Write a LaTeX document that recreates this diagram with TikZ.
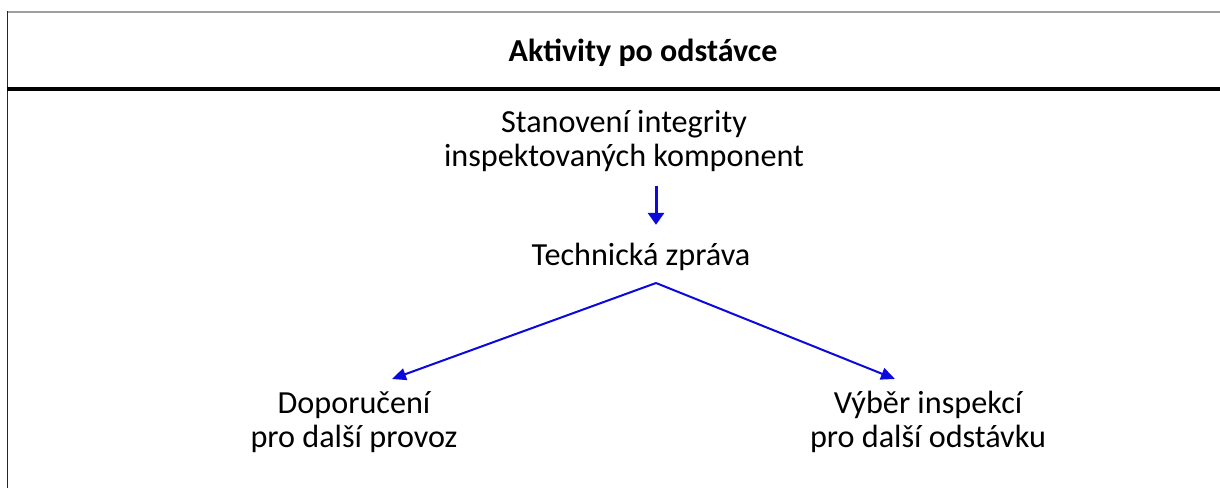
\documentclass[tikz,border=0pt]{standalone}
\usepackage{fontspec}
\setmainfont{Carlito}
\usepackage{tikz}
\usetikzlibrary{arrows.meta,positioning}
\definecolor{flowblue}{RGB}{10,10,220}
\definecolor{framegray}{RGB}{160,160,160}
\tikzset{textblock/.style={align=center,inner sep=0,font=\fontsize{16.1}{17}\selectfont},
    headline/.style={inner sep=0,font=\fontsize{16}{17}\selectfont\bfseries},
    flowdown/.style={draw=flowblue,line width=1.5pt,-{Triangle[length=6pt,width=8pt]}},
    flowside/.style={draw=flowblue,line width=1pt,-{Triangle[length=7pt,width=6pt]}}
}

\begin{document}
\begin{tikzpicture}[x=0.5pt,y=-0.5pt]

\useasboundingbox (0,0) rectangle (1220,488);

%% frame of the table
\draw [framegray,line width=0.7pt] (7,12) -- (1220,12);
\draw [black!85,line width=0.6pt] (7.5,11) -- (7.5,488);
\draw [black,line width=1.6pt] (7,89) -- (1220,89);

\node (title) at (643,53) [headline] {Aktivity po odstávce};

% blocks

\node (integrity) at (624,141) [textblock] {Stanovení integrity\\inspektovaných komponent};
\node (report) at (641,257) [textblock] {Technická zpráva};
\node (advice) at (354,422) [textblock] {Doporučení\\pro další provoz};
\node (selection) at (928,422) [textblock] {Výběr inspekcí\\pro další odstávku};

\coordinate (split) at (656,283);
\coordinate (tipL) at (392,379);
\coordinate (tipR) at (895,379);

% connectors

\draw [flowdown,shorten <=7pt,shorten >=9pt] (integrity.south -| split) -- (report.north -| split);
\draw [flowside] (split) -- (tipL);
\draw [flowside] (split) -- (tipR);

\end{tikzpicture}
\end{document}
